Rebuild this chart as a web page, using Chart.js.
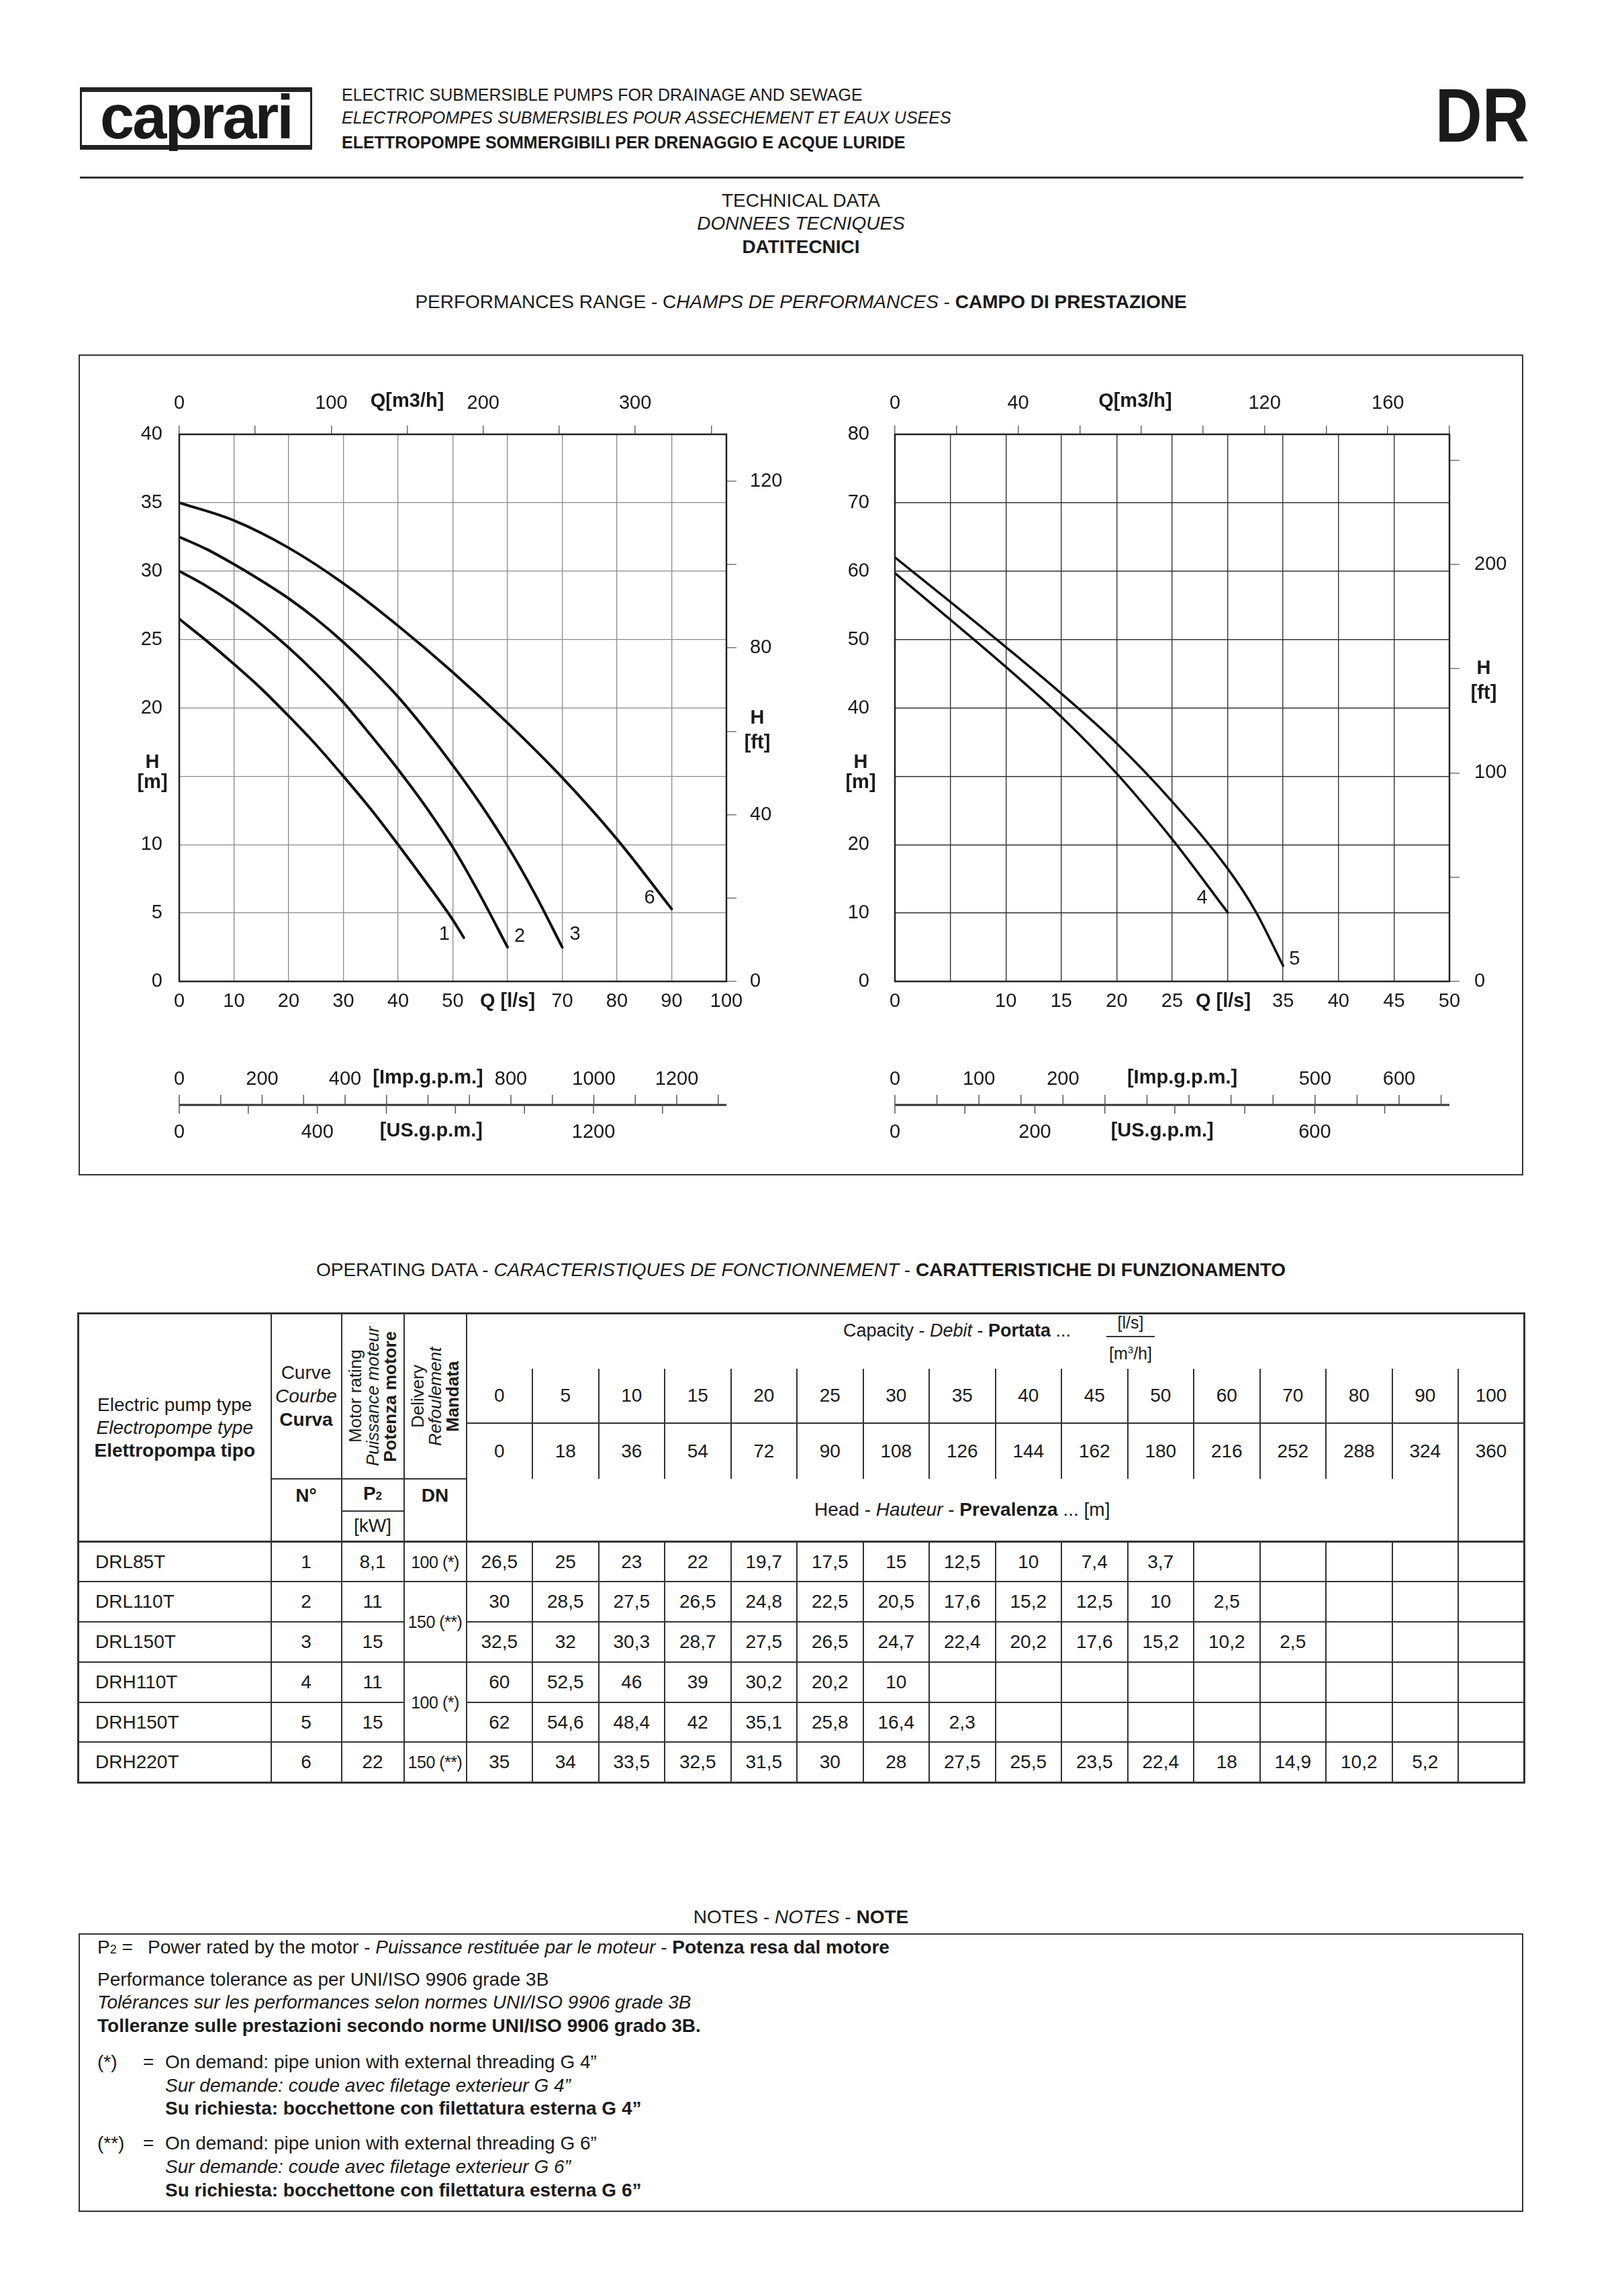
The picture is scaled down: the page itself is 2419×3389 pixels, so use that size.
<!DOCTYPE html>
<html><head><meta charset="utf-8">
<script src="https://cdn.jsdelivr.net/npm/chart.js@4.4.1/dist/chart.umd.min.js"></script>
<style>
html,body{margin:0;padding:0;background:#fff}
body{width:2419px;height:3389px;position:relative;overflow:hidden;font-family:"Liberation Sans",Arial,Helvetica,sans-serif;color:#1a1a1a}
.t{position:absolute;white-space:nowrap}
.ctr{position:absolute;left:0;width:2386px;text-align:center;white-space:nowrap;font-size:28px;line-height:34px}
.n{position:absolute;white-space:nowrap;font-size:28px;line-height:34px}
#optable{position:absolute;left:115px;top:1955px;width:2154px;border-collapse:collapse;table-layout:fixed;font-size:28px;border:3px solid #333}
#optable td{border:2px solid #333;text-align:center;vertical-align:middle;padding:0;white-space:nowrap;overflow:visible;line-height:34px}
#optable td.nt{border-top:none}
#optable td.nb{border-bottom:none}
#optable td.top{vertical-align:top;padding-top:6px;line-height:36px}
#optable td.nm{text-align:left;padding-left:24px}
#optable td.dn{font-size:25px;letter-spacing:-0.5px}
#optable tr.first td{border-top:3px solid #333}
.rot{writing-mode:vertical-rl;transform:rotate(180deg);font-size:26px;line-height:26px;height:240px;text-align:center;margin:0 auto;white-space:nowrap}
canvas{position:absolute}
</style></head><body>

<!-- header -->
<div class="t" style="left:119px;top:130px;width:346px;height:93px;box-sizing:border-box;border:3px solid #222;border-top:7px solid #222;border-bottom:7px solid #222;font-weight:bold;font-size:92px;line-height:74px;text-align:center;letter-spacing:-3px">caprari</div>
<div class="t" style="left:509px;top:126px;font-size:25px;line-height:30px">ELECTRIC SUBMERSIBLE PUMPS FOR DRAINAGE AND SEWAGE</div>
<div class="t" style="left:509px;top:160px;font-size:25px;line-height:30px;font-style:italic">ELECTROPOMPES SUBMERSIBLES POUR ASSECHEMENT ET EAUX USEES</div>
<div class="t" style="left:509px;top:197px;font-size:25px;line-height:30px;font-weight:bold">ELETTROPOMPE SOMMERGIBILI PER DRENAGGIO E ACQUE LURIDE</div>
<div class="t" style="right:141px;top:115px;font-size:114px;line-height:114px;font-weight:bold;transform:scaleX(0.85);transform-origin:right center">DR</div>
<div class="t" style="left:119px;top:263px;width:2150px;height:3px;background:#333"></div>

<div class="ctr" style="top:282px">TECHNICAL DATA</div>
<div class="ctr" style="top:316px;font-style:italic">DONNEES TECNIQUES</div>
<div class="ctr" style="top:351px;font-weight:bold">DATITECNICI</div>
<div class="ctr" style="top:433px">PERFORMANCES RANGE - C<i>HAMPS DE PERFORMANCES</i> - <b>CAMPO DI PRESTAZIONE</b></div>

<div class="t" style="left:117px;top:528px;width:2152px;height:1223px;box-sizing:border-box;border:2.5px solid #333"></div>
<canvas id="leftChart" width="1100" height="1170" style="left:150px;top:560px;width:1100px;height:1170px"></canvas>
<canvas id="rightChart" width="1030" height="1170" style="left:1230px;top:560px;width:1030px;height:1170px"></canvas>

<div class="ctr" style="top:1875px">OPERATING DATA - <i>CARACTERISTIQUES DE FONCTIONNEMENT</i> - <b>CARATTERISTICHE DI FUNZIONAMENTO</b></div>

<table id="optable"></table>
<div class="t" style="left:1256px;top:1965px;font-size:27px;line-height:34px">Capacity - <i>Debit</i> - <b>Portata</b> ...</div>
<div class="t" style="left:1648px;top:1956px;width:72px;text-align:center;font-size:25px;line-height:28px">[l/s]</div>
<div class="t" style="left:1648px;top:1990px;width:72px;height:2px;background:#333"></div>
<div class="t" style="left:1648px;top:1997px;width:72px;text-align:center;font-size:25px;line-height:28px">[m<sup style="font-size:15px">3</sup>/h]</div>

<!-- notes -->
<div class="ctr" style="top:2839px">NOTES - <i>NOTES</i> - <b>NOTE</b></div>
<div class="t" style="left:117px;top:2880px;width:2152px;height:415px;box-sizing:border-box;border:2.5px solid #333"></div>
<div class="n" style="left:145px;top:2884px">P<span style="font-size:18px">2</span> =</div>
<div class="n" style="left:220px;top:2884px">Power rated by the motor - <i>Puissance restituée par le moteur</i> - <b>Potenza resa dal motore</b></div>
<div class="n" style="left:145px;top:2932px">Performance tolerance as per UNI/ISO 9906 grade 3B</div>
<div class="n" style="left:145px;top:2966px;font-style:italic">Tolérances sur les performances selon normes UNI/ISO 9906 grade 3B</div>
<div class="n" style="left:145px;top:3001px;font-weight:bold">Tolleranze sulle prestazioni secondo norme UNI/ISO 9906 grado 3B.</div>
<div class="n" style="left:145px;top:3055px">(*)</div>
<div class="n" style="left:213px;top:3055px">=</div>
<div class="n" style="left:246px;top:3055px">On demand: pipe union with external threading G 4”</div>
<div class="n" style="left:246px;top:3090px;font-style:italic">Sur demande: coude avec filetage exterieur G 4”</div>
<div class="n" style="left:246px;top:3124px;font-weight:bold">Su richiesta: bocchettone con filettatura esterna G 4”</div>
<div class="n" style="left:145px;top:3176px">(**)</div>
<div class="n" style="left:213px;top:3176px">=</div>
<div class="n" style="left:246px;top:3176px">On demand: pipe union with external threading G 6”</div>
<div class="n" style="left:246px;top:3211px;font-style:italic">Sur demande: coude avec filetage exterieur G 6”</div>
<div class="n" style="left:246px;top:3246px;font-weight:bold">Su richiesta: bocchettone con filettatura esterna G 6”</div>

<script>
// ---------------- TABLE DATA ----------------
const capacityLs   = [0,5,10,15,20,25,30,35,40,45,50,60,70,80,90,100];
const capacityM3h  = [0,18,36,54,72,90,108,126,144,162,180,216,252,288,324,360];
const pumpTypes    = ['DRL85T','DRL110T','DRL150T','DRH110T','DRH150T','DRH220T'];
const curveNumbers = [1,2,3,4,5,6];
const motorPowerKw = [8.1,11,15,11,15,22];
const deliveryDn   = ['100 (*)','150 (**)','150 (**)','100 (*)','100 (*)','150 (**)'];
const headDRL85T   = [26.5,25,23,22,19.7,17.5,15,12.5,10,7.4,3.7];
const headDRL110T  = [30,28.5,27.5,26.5,24.8,22.5,20.5,17.6,15.2,12.5,10,2.5];
const headDRL150T  = [32.5,32,30.3,28.7,27.5,26.5,24.7,22.4,20.2,17.6,15.2,10.2,2.5];
const headDRH110T  = [60,52.5,46,39,30.2,20.2,10];
const headDRH150T  = [62,54.6,48.4,42,35.1,25.8,16.4,2.3];
const headDRH220T  = [35,34,33.5,32.5,31.5,30,28,27.5,25.5,23.5,22.4,18,14.9,10.2,5.2];

// ---------------- CURVES AS DRAWN ON THE CHARTS ----------------
const curve1Q = [0,5,10,15,20,25,30,35,40,45,50,52];
const curve1H = [26.5,24.9,23.2,21.4,19.4,17.3,15.0,12.6,10.0,7.3,4.5,3.2];
const curve2Q = [0,5,10,15,20,25,30,35,40,45,50,55,60];
const curve2H = [30,28.9,27.6,26.1,24.4,22.5,20.4,18.0,15.5,12.8,9.8,6.3,2.5];
const curve3Q = [0,5,10,15,20,25,30,35,40,45,50,55,60,65,70];
const curve3H = [32.5,31.6,30.5,29.3,28.0,26.5,24.8,22.9,20.8,18.4,15.8,13.0,9.9,6.4,2.5];
const curve6Q = [0,10,20,30,40,50,60,70,80,90];
const curve6H = [35,33.7,31.7,29.1,26.0,22.6,18.9,14.9,10.4,5.3];
const curve4Q = [0,5,10,15,20,25,30];
const curve4H = [59.7,52.9,46.0,38.7,30.4,20.8,10.1];
const curve5Q = [0,5,10,15,20,25,30,32.5,35];
const curve5H = [62,55.5,48.9,42.1,34.8,26.3,16.5,10.3,2.3];

// ---------------- TICK LABELS ----------------
const leftQLabels    = [0,10,20,30,40,50,70,80,90,100];
const leftHLabels    = [0,5,10,20,25,30,35,40];
const leftM3hLabels  = [0,100,200,300];
const leftFtLabels   = [0,40,80,120];
const leftImpLabels  = [0,200,400,800,1000,1200];
const leftUsLabels   = [0,400,1200];
const rightQLabels   = [0,10,15,20,25,35,40,45,50];
const rightHLabels   = [0,10,20,40,50,60,70,80];
const rightM3hLabels = [0,40,120,160];
const rightFtLabels  = [0,100,200];
const rightImpLabels = [0,100,200,500,600];
const rightUsLabels  = [0,200,600];

// unit conversions
const LS_TO_M3H = 3.6, M_TO_FT = 3.28084, LS_TO_IMP = 13.198, LS_TO_US = 15.850;
const FONT = '"Liberation Sans", Arial, Helvetica, sans-serif';
const fmt = v => String(v).replace('.', ',');

// ---------------- TABLE ----------------
(function buildTable(){
  const heads = [headDRL85T, headDRL110T, headDRL150T, headDRH110T, headDRH150T, headDRH220T];
  let h = '<colgroup><col style="width:287px"><col style="width:105px"><col style="width:93px"><col style="width:93px">' +
          capacityLs.map(() => '<col style="width:98.5px">').join('') + '</colgroup>';
  h += '<tr style="height:82px"><td rowspan="5">Electric pump type<br><i>Electropompe type</i><br><b>Elettropompa tipo</b></td>' +
       '<td rowspan="3" style="line-height:35px">Curve<br><i>Courbe</i><br><b>Curva</b></td>' +
       '<td rowspan="3"><div class="rot">Motor rating<br><i>Puissance moteur</i><br><b>Potenza motore</b></div></td>' +
       '<td rowspan="3"><div class="rot">Delivery<br><i>Refoulement</i><br><b>Mandata</b></div></td>' +
       '<td colspan="16" class="nb"></td></tr>';
  h += '<tr style="height:81px">' + capacityLs.map(v => '<td class="nt">' + v + '</td>').join('') + '</tr>';
  h += '<tr style="height:83px">' + capacityM3h.map(v => '<td class="nb">' + v + '</td>').join('') + '</tr>';
  h += '<tr style="height:48px"><td rowspan="2" class="top"><b>N°</b></td><td><b>P<span style="font-size:17px">2</span></b></td>' +
       '<td rowspan="2" class="top"><b>DN</b></td>' +
       '<td colspan="15" rowspan="2" class="nt">Head - <i>Hauteur</i> - <b>Prevalenza</b> ... [m]</td>' +
       '<td rowspan="2" class="nt"></td></tr>';
  h += '<tr style="height:46px"><td>[kW]</td></tr>';
  const dnSpan = [1,2,0,2,0,1];
  pumpTypes.forEach((name, r) => {
    h += '<tr style="height:59.8px"' + (r === 0 ? ' class="first"' : '') + '>';
    h += '<td class="nm">' + name + '</td><td>' + curveNumbers[r] + '</td><td>' + fmt(motorPowerKw[r]) + '</td>';
    if (dnSpan[r] > 0) h += '<td class="dn"' + (dnSpan[r] > 1 ? ' rowspan="2"' : '') + '>' + deliveryDn[r] + '</td>';
    capacityLs.forEach((q, i) => {
      const v = heads[r][i];
      h += '<td>' + (v === undefined ? '' : fmt(v)) + '</td>';
    });
    h += '</tr>';
  });
  document.getElementById('optable').innerHTML = h;
})();

// ---------------- CHARTS ----------------
function overlay(cfg) {
  return {
    id: 'overlay',
    afterDraw(chart) {
      const {ctx, chartArea: a, scales} = chart;
      const x = scales.x, y = scales.y, x2 = scales.x2, y2 = scales.y2;
      ctx.save();
      ctx.strokeStyle = '#222'; ctx.lineWidth = 2.5;
      ctx.strokeRect(a.left, a.top, a.right - a.left, a.bottom - a.top);
      ctx.fillStyle = '#1a1a1a';
      ctx.textAlign = 'center'; ctx.textBaseline = 'middle';
      ctx.font = 'bold 29px ' + FONT;
      ctx.fillText('Q [l/s]', x.getPixelForValue(cfg.xTitleAt), a.bottom + 30);
      ctx.fillText('Q[m3/h]', x2.getPixelForValue(cfg.x2TitleAt), a.top - 49);
      const yh = y.getPixelForValue(cfg.yTitleAt);
      ctx.fillText('H', a.left - cfg.hmDx, yh - 20);
      ctx.fillText('[m]', a.left - cfg.hmDx, yh + 10);
      const yf = y2.getPixelForValue(cfg.y2TitleAt);
      ctx.fillText('H', a.right + cfg.hftDx, yf + cfg.hftDy);
      ctx.fillText('[ft]', a.right + cfg.hftDx, yf + cfg.hftDy + 37);
      ctx.font = '29px ' + FONT;
      chart.data.datasets.forEach((ds, i) => {
        const last = ds.data[ds.data.length - 1];
        const lab = cfg.curveLabels[i];
        ctx.fillText(lab.text, x.getPixelForValue(last.x) + lab.dx, y.getPixelForValue(last.y) + lab.dy);
      });
      const ya = a.bottom + 184;
      ctx.strokeStyle = '#333'; ctx.lineWidth = 3;
      ctx.beginPath(); ctx.moveTo(a.left, ya); ctx.lineTo(a.right, ya); ctx.stroke();
      ctx.strokeStyle = '#555'; ctx.lineWidth = 1.5;
      for (let v = 0; v <= cfg.impMax; v += cfg.impStep) {
        const px = x.getPixelForValue(v / LS_TO_IMP);
        ctx.beginPath(); ctx.moveTo(px, ya - 15); ctx.lineTo(px, ya); ctx.stroke();
      }
      for (let v = 0; v <= cfg.usMax; v += cfg.usStep) {
        const px = x.getPixelForValue(v / LS_TO_US);
        ctx.beginPath(); ctx.moveTo(px, ya); ctx.lineTo(px, ya + 13); ctx.stroke();
      }
      ctx.font = '29px ' + FONT;
      cfg.impLabels.forEach(v => ctx.fillText(String(v), x.getPixelForValue(v / LS_TO_IMP), ya - 38));
      cfg.usLabels.forEach(v => ctx.fillText(String(v), x.getPixelForValue(v / LS_TO_US), ya + 41));
      ctx.font = 'bold 29px ' + FONT;
      ctx.fillText('[Imp.g.p.m.]', x.getPixelForValue(cfg.impTitleAt / LS_TO_IMP), ya - 40);
      ctx.fillText('[US.g.p.m.]', x.getPixelForValue(cfg.usTitleAt / LS_TO_US), ya + 39);
      ctx.restore();
    }
  };
}

function makeChart(cfg) {
  const tickFont = {family: FONT, size: 29};
  const lab = list => v => (list.includes(v) ? String(v) : '');
  new Chart(document.getElementById(cfg.canvas), {
    type: 'scatter',
    data: {
      datasets: cfg.curves.map(c => ({
        data: c.q.map((q, i) => ({x: q, y: c.h[i]})),
        showLine: true, borderColor: '#111', backgroundColor: '#111',
        borderWidth: cfg.curveWidth, pointRadius: 0, pointHoverRadius: 0,
        cubicInterpolationMode: 'monotone', fill: false, borderCapStyle: 'round', borderJoinStyle: 'round'
      }))
    },
    options: {
      responsive: false, animation: false, events: [], devicePixelRatio: 1,
      layout: {padding: 0},
      plugins: {legend: {display: false}, tooltip: {enabled: false}},
      scales: {
        x: {type: 'linear', position: 'bottom', min: 0, max: cfg.qMax,
            ticks: {stepSize: cfg.qStep, autoSkip: false, maxRotation: 0, padding: 13, font: tickFont, color: '#1a1a1a', callback: lab(cfg.qLabels)},
            grid: {color: cfg.gridColor, lineWidth: cfg.gridWidth, drawTicks: false}, border: {display: false},
            afterFit: s => { s.height = cfg.bottomH; }},
        y: {type: 'linear', position: 'left', min: 0, max: cfg.hMax,
            ticks: {stepSize: cfg.hStep, autoSkip: false, padding: cfg.yPad, font: tickFont, color: '#1a1a1a', callback: lab(cfg.hLabels)},
            grid: {color: cfg.gridColor, lineWidth: cfg.gridWidth, drawTicks: false}, border: {display: false},
            afterFit: s => { s.width = cfg.leftW; }},
        x2: {type: 'linear', axis: 'x', position: 'top', display: true, min: 0, max: cfg.qMax * LS_TO_M3H,
            ticks: {stepSize: cfg.m3hStep, includeBounds: false, autoSkip: false, maxRotation: 0, padding: 16, font: tickFont, color: '#1a1a1a', callback: lab(cfg.m3hLabels)},
            grid: {drawOnChartArea: false, drawTicks: true, tickLength: 13, color: '#666', lineWidth: 1.5}, border: {display: false},
            afterFit: s => { s.height = cfg.topH; }},
        y2: {type: 'linear', axis: 'y', position: 'right', display: true, min: 0, max: cfg.hMax * M_TO_FT,
            ticks: {stepSize: cfg.ftStep, includeBounds: false, autoSkip: false, padding: cfg.y2Pad, font: tickFont, color: '#1a1a1a', callback: lab(cfg.ftLabels)},
            grid: {drawOnChartArea: false, drawTicks: true, tickLength: 15, color: '#777', lineWidth: 1.5}, border: {display: false},
            afterFit: s => { s.width = cfg.rightW; }}
      }
    },
    plugins: [overlay(cfg)]
  });
}

makeChart({
  canvas: 'leftChart', leftW: 117, rightW: 168, topH: 87, bottomH: 268,
  qMax: 100, qStep: 10, qLabels: leftQLabels, xTitleAt: 60,
  hMax: 40, hStep: 5, hLabels: leftHLabels, yTitleAt: 15, yPad: 25, hmDx: 40,
  m3hStep: 50, m3hLabels: leftM3hLabels, x2TitleAt: 150,
  ftStep: 20, ftLabels: leftFtLabels, y2TitleAt: 60, y2Pad: 20, hftDx: 46, hftDy: -19,
  gridColor: '#8a8a8a', gridWidth: 1.3, curveWidth: 4,
  impMax: 1300, impStep: 100, impLabels: leftImpLabels, impTitleAt: 600,
  usMax: 1400, usStep: 200, usLabels: leftUsLabels, usTitleAt: 730,
  curves: [{q: curve1Q, h: curve1H}, {q: curve2Q, h: curve2H}, {q: curve3Q, h: curve3H}, {q: curve6Q, h: curve6H}],
  curveLabels: [{text: '1', dx: -29, dy: -5}, {text: '2', dx: 18, dy: -16}, {text: '3', dx: 19, dy: -19}, {text: '6', dx: -33, dy: -16}]
});

makeChart({
  canvas: 'rightChart', leftW: 103, rightW: 101, topH: 87, bottomH: 268,
  qMax: 50, qStep: 5, qLabels: rightQLabels, xTitleAt: 29.6,
  hMax: 80, hStep: 10, hLabels: rightHLabels, yTitleAt: 30, yPad: 38, hmDx: 51,
  m3hStep: 20, m3hLabels: rightM3hLabels, x2TitleAt: 78,
  ftStep: 50, ftLabels: rightFtLabels, y2TitleAt: 150, y2Pad: 22, hftDx: 51, hftDy: 0,
  gridColor: '#333', gridWidth: 1.4, curveWidth: 3.5,
  impMax: 650, impStep: 50, impLabels: rightImpLabels, impTitleAt: 342,
  usMax: 700, usStep: 100, usLabels: rightUsLabels, usTitleAt: 382,
  curves: [{q: curve4Q, h: curve4H}, {q: curve5Q, h: curve5H}],
  curveLabels: [{text: '4', dx: -38, dy: -21}, {text: '5', dx: 17, dy: -10}]
});
</script>
</body></html>
